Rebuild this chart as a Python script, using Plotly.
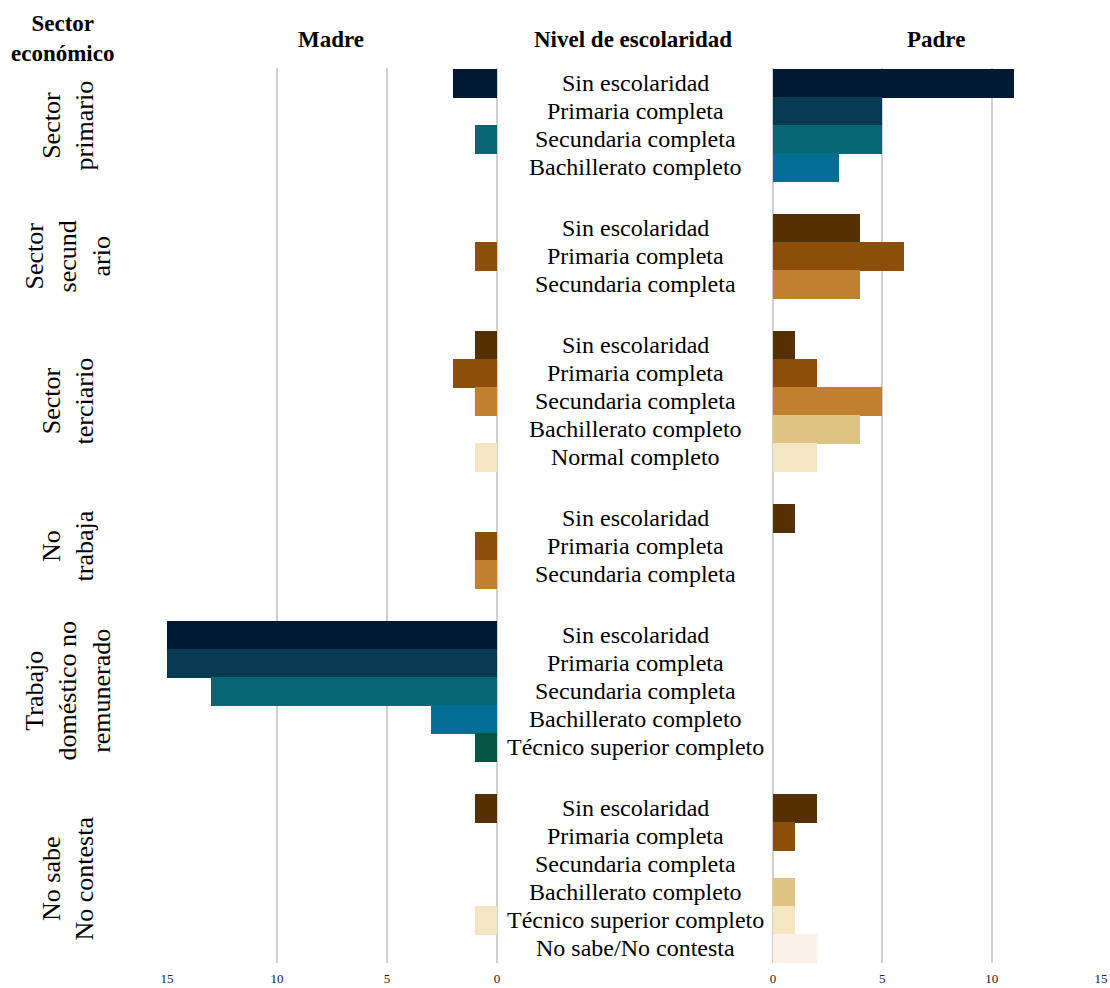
import plotly.graph_objects as go

# Economic sectors (row groups) and the schooling levels listed in each one
sectors = [
    "Sector<br>primario",
    "Sector<br>secund<br>ario",
    "Sector<br>terciario",
    "No<br>trabaja",
    "Trabajo<br>doméstico no<br>remunerado",
    "No sabe<br>No contesta",
]
levels = [
    ["Sin escolaridad", "Primaria completa", "Secundaria completa", "Bachillerato completo"],
    ["Sin escolaridad", "Primaria completa", "Secundaria completa"],
    ["Sin escolaridad", "Primaria completa", "Secundaria completa", "Bachillerato completo",
     "Normal completo"],
    ["Sin escolaridad", "Primaria completa", "Secundaria completa"],
    ["Sin escolaridad", "Primaria completa", "Secundaria completa", "Bachillerato completo",
     "Técnico superior completo"],
    ["Sin escolaridad", "Primaria completa", "Secundaria completa", "Bachillerato completo",
     "Técnico superior completo", "No sabe/No contesta"],
]

# Counts per sector and schooling level
madre = [
    [2, 0, 1, 0],
    [0, 1, 0],
    [1, 2, 1, 0, 1],
    [0, 1, 1],
    [15, 15, 13, 3, 1],
    [1, 0, 0, 0, 1, 0],
]
padre = [
    [11, 5, 5, 3],
    [4, 6, 4],
    [1, 2, 5, 4, 2],
    [1, 0, 0],
    [0, 0, 0, 0, 0],
    [2, 1, 0, 1, 1, 2],
]

# Palette family used by each sector group
palette_of_sector = ["blue", "brown", "brown", "brown", "blue", "brown"]
palettes = {
    "blue": ["#011a33", "#053a52", "#066674", "#046d93", "#055544", "#055544"],
    "brown": ["#553003", "#8c4f0a", "#c17f30", "#dfc383", "#f5e6c3", "#faf2e8"],
}

FONT = "'Liberation Serif', 'DejaVu Serif', serif"
GAP = 1.18          # extra space between sector groups, in row units
W, H = 1110, 988
MB = 24             # bottom margin holding the tick labels
TOP, BOTTOM = 68, 963
PH = H - MB         # plot-area height

# Row positions built from the group structure
ypos, labels, m_vals, p_vals, colors, centers = [], [], [], [], [], []
cursor = 0.0
for g, lv in enumerate(levels):
    start = cursor
    pal = palettes[palette_of_sector[g]]
    for i, name in enumerate(lv):
        ypos.append(cursor)
        labels.append(name)
        m_vals.append(madre[g][i])
        p_vals.append(padre[g][i])
        colors.append(pal[i])
        cursor += 1
    centers.append((start + cursor - 1) / 2)
    cursor += GAP
last = cursor - GAP - 1
yrange = [last + 0.52, -0.55]

fig = go.Figure()
fig.add_trace(go.Bar(
    x=m_vals, y=ypos, orientation="h", width=1.02,
    marker=dict(color=colors, line=dict(width=0)),
    xaxis="x", yaxis="y", name="Madre", showlegend=False,
))
fig.add_trace(go.Bar(
    x=p_vals, y=ypos, orientation="h", width=1.02,
    marker=dict(color=colors, line=dict(width=0)),
    xaxis="x2", yaxis="y", name="Padre", showlegend=False,
))

ydom = [max(0.0, 1 - BOTTOM / PH), 1 - TOP / PH]
grid = dict(showgrid=True, gridcolor="#d0d0d0", gridwidth=2,
            zeroline=True, zerolinecolor="#d0d0d0", zerolinewidth=2,
            tickvals=[0, 5, 10, 15], ticks="", showline=False, automargin=False,
            tickfont=dict(family=FONT, size=13, color="#222"),
            ticklabelstandoff=6, fixedrange=True)

fig.update_layout(
    template="none",
    width=W, height=H,
    margin=dict(l=0, r=0, t=0, b=MB, pad=0),
    paper_bgcolor="white", plot_bgcolor="white",
    bargap=0,
    xaxis=dict(domain=[167 / W, 497 / W], range=[15, 0], anchor="y", **grid),
    xaxis2=dict(domain=[773 / W, 1101 / W], range=[0, 15], anchor="y", **grid),
    yaxis=dict(domain=ydom, range=yrange, showgrid=False, zeroline=False, automargin=False,
               showticklabels=False, ticks="", showline=False, fixedrange=True),
    font=dict(family=FONT, color="black"),
)

ann = []
# Schooling level labels in the middle column
for y, t in zip(ypos, labels):
    ann.append(dict(x=635 / W, xref="paper", y=y, yref="y", text=t, showarrow=False,
                    xanchor="center", yanchor="middle",
                    font=dict(family=FONT, size=24, color="black")))
# Sector labels, rotated
for c, s in zip(centers, sectors):
    ann.append(dict(x=68 / W, xref="paper", y=c, yref="y", text=s, showarrow=False,
                    textangle=-90, xanchor="center", yanchor="middle",
                    font=dict(family=FONT, size=26, color="black")))
# Column headings
heads = [("<b>Madre</b>", 331), ("<b>Nivel de escolaridad</b>", 633), ("<b>Padre</b>", 936)]
for t, x in heads:
    ann.append(dict(x=x / W, xref="paper", y=1 - 40 / PH, yref="paper", text=t,
                    showarrow=False, xanchor="center", yanchor="middle",
                    font=dict(family=FONT, size=23, color="black")))
ann.append(dict(x=62 / W, xref="paper", y=1 - 39 / PH, yref="paper",
                text="<b>Sector</b><br><b>económico</b>", showarrow=False,
                xanchor="center", yanchor="middle",
                font=dict(family=FONT, size=23, color="black")))
fig.update_layout(annotations=ann)

fig.write_html("out.html")
